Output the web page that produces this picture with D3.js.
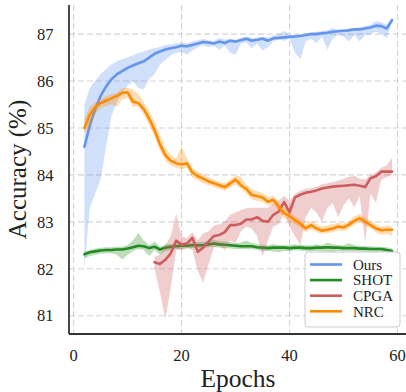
<!DOCTYPE html>
<html>
<head>
<meta charset="utf-8">
<script src="https://cdn.jsdelivr.net/npm/d3@7/dist/d3.min.js"></script>
<style>
  html, body { margin: 0; padding: 0; background: #fff; }
  svg { display: block; font-family: "Liberation Serif", "DejaVu Serif", serif; }
</style>
</head>
<body>
<svg id="chart" width="406" height="392"></svg>
<script>
// ---------- data ----------
const epochsMain = d3.range(2, 60);   // 2..59
const epochsCPGA = d3.range(15, 60);  // 15..59

const oursMean = [84.6,85.05,85.4,85.68,85.88,86.04,86.14,86.21,86.28,86.33,86.38,86.42,86.5,86.58,86.63,86.67,86.7,86.72,86.75,86.74,86.77,86.8,86.83,86.82,86.8,86.84,86.81,86.86,86.84,86.87,86.9,86.86,86.88,86.9,86.86,86.91,86.92,86.93,86.94,86.95,86.96,86.98,87.0,87.0,87.02,87.03,87.05,87.06,87.07,87.08,87.1,87.1,87.12,87.14,87.18,87.17,87.12,87.3];
const oursLow  = [82.0,83.3,83.6,83.9,84.6,85.25,85.55,85.75,85.9,86.0,85.85,85.82,86.05,86.15,86.35,86.45,86.55,86.6,86.62,86.56,86.65,86.72,86.77,86.72,86.75,86.67,86.75,86.6,86.56,86.8,86.82,86.7,86.8,86.65,86.72,86.85,86.88,86.86,86.9,86.6,86.47,86.85,86.9,86.8,86.95,86.67,86.9,86.98,86.95,86.84,86.98,86.84,86.98,87.0,87.05,87.0,86.91,87.25];
const oursHigh = [85.5,85.85,86.0,86.15,86.25,86.35,86.42,86.47,86.5,86.55,86.6,86.63,86.67,86.7,86.73,86.76,86.78,86.8,86.82,86.8,86.84,86.87,86.9,86.87,86.85,86.92,86.88,86.9,86.88,86.92,86.95,86.92,86.92,86.95,86.93,86.97,87.0,87.07,86.98,86.98,87.0,87.02,87.04,87.05,87.06,87.08,87.13,87.1,87.1,87.12,87.13,87.14,87.17,87.2,87.28,87.25,87.2,87.35];

const shotMean = [82.31,82.35,82.37,82.39,82.4,82.4,82.41,82.41,82.43,82.46,82.49,82.48,82.44,82.47,82.41,82.45,82.47,82.48,82.49,82.49,82.5,82.5,82.5,82.52,82.54,82.52,82.51,82.5,82.49,82.48,82.48,82.48,82.46,82.45,82.44,82.45,82.45,82.45,82.44,82.45,82.45,82.44,82.44,82.45,82.45,82.46,82.45,82.45,82.44,82.44,82.44,82.43,82.43,82.42,82.42,82.42,82.4,82.38];
const shotLow  = [82.22,82.27,82.3,82.32,82.33,82.33,82.3,82.2,82.3,82.38,82.42,82.4,82.27,82.4,82.3,82.38,82.4,82.42,82.42,82.43,82.44,82.44,82.44,82.46,82.47,82.45,82.44,82.43,82.42,82.42,82.42,82.42,82.4,82.38,82.38,82.37,82.35,82.38,82.38,82.39,82.39,82.38,82.37,82.38,82.37,82.37,82.35,82.38,82.37,82.38,82.37,82.37,82.36,82.36,82.35,82.36,82.34,82.33];
const shotHigh = [82.36,82.4,82.43,82.45,82.46,82.46,82.47,82.47,82.5,82.6,82.76,82.6,82.5,82.58,82.47,82.52,82.53,82.54,82.56,82.56,82.57,82.57,82.57,82.6,82.62,82.59,82.58,82.57,82.55,82.56,82.6,82.55,82.52,82.51,82.5,82.52,82.5,82.5,82.5,82.52,82.51,82.5,82.5,82.52,82.5,82.56,82.52,82.5,82.5,82.55,82.5,82.49,82.48,82.48,82.47,82.47,82.46,82.43];

const cpgaMean = [82.14,82.1,82.19,82.33,82.6,82.51,82.54,82.66,82.36,82.45,82.58,82.7,82.72,82.78,82.93,82.93,82.96,83.05,83.05,83.1,83.02,83.0,83.15,83.22,83.42,83.2,83.52,83.58,83.62,83.64,83.67,83.71,83.73,83.75,83.76,83.77,83.78,83.79,83.77,83.74,83.93,83.97,84.07,84.07,84.07];
const cpgaLow  = [82.0,81.5,80.93,81.6,82.4,82.4,82.45,82.4,81.95,81.7,82.1,82.45,82.5,82.4,82.6,82.55,82.8,82.9,82.85,82.7,82.26,82.6,82.9,82.95,83.2,82.9,82.7,82.5,83.1,83.3,83.2,83.0,83.3,83.4,83.1,83.35,83.5,83.3,83.55,82.55,83.6,83.4,83.9,83.95,84.0];
const cpgaHigh = [82.25,82.3,82.5,82.7,83.18,82.7,82.65,82.78,82.6,82.75,82.8,82.92,82.95,83.0,83.15,83.2,83.25,83.29,83.3,83.3,83.3,83.3,83.4,83.45,83.55,83.45,83.6,83.66,83.7,83.72,83.75,83.8,83.82,83.85,83.88,83.92,83.96,83.98,83.92,83.9,84.0,84.05,84.15,84.2,84.37];

const nrcMean = [85.0,85.28,85.44,85.53,85.58,85.63,85.68,85.75,85.76,85.56,85.53,85.4,85.2,84.95,84.65,84.42,84.3,84.25,84.22,84.25,84.05,83.97,83.92,83.86,83.82,83.78,83.74,83.82,83.9,83.78,83.7,83.57,83.55,83.52,83.43,83.47,83.32,83.18,83.12,83.04,82.96,82.86,82.93,82.86,82.81,82.83,82.86,82.9,82.88,82.94,83.02,83.08,83.0,82.93,82.86,82.82,82.83,82.83];
const nrcLow  = [84.9,85.0,85.3,85.42,85.47,85.5,85.45,85.6,85.65,85.45,85.45,85.28,85.05,84.82,84.52,84.3,84.2,84.15,84.12,84.15,83.95,83.88,83.82,83.78,83.74,83.7,83.66,83.72,83.8,83.7,83.6,83.48,83.45,83.42,83.35,83.38,83.22,83.08,83.02,82.95,82.88,82.78,82.84,82.78,82.74,82.76,82.78,82.82,82.8,82.86,82.94,83.0,82.92,82.85,82.78,82.72,82.74,82.7];
const nrcHigh = [85.2,85.45,85.55,85.62,85.68,85.72,85.75,85.85,85.85,85.82,85.72,85.55,85.35,85.15,84.85,84.58,84.42,84.35,84.6,84.35,84.15,84.06,84.02,83.95,83.9,83.86,83.82,83.9,83.98,83.96,83.8,83.7,83.65,83.62,83.52,83.56,83.42,83.3,83.22,83.12,83.05,82.95,83.02,82.95,82.9,82.92,82.95,82.98,82.96,83.02,83.12,83.16,83.1,83.02,82.95,82.9,82.92,82.9];

const xTicks = [0, 20, 40, 60];
const yTicks = [81, 82, 83, 84, 85, 86, 87];
const seriesNames = ["Ours", "SHOT", "CPGA", "NRC"];
const seriesColors = ["#6495ED", "#228B22", "#CD5C5C", "#FF8C00"];

// ---------- layout ----------
const svg = d3.select("#chart");
const W = 406, H = 392;
const pLeft = 69, pRight = 407.5, pTop = 5, pBottom = 334;

const x = d3.scaleLinear().domain([-0.85, 61.85]).range([pLeft, pRight]);
const y = d3.scaleLinear().domain([80.61, 87.62]).range([pBottom, pTop]);

// grid
const grid = svg.append("g");
grid.selectAll("line.gx").data(xTicks).join("line")
  .attr("x1", d => x(d)).attr("x2", d => x(d))
  .attr("y1", pTop).attr("y2", pBottom)
  .attr("stroke", "#d3d3d3").attr("stroke-width", 1.1).attr("stroke-dasharray", "6,3");
grid.selectAll("line.gy").data(yTicks).join("line")
  .attr("x1", pLeft).attr("x2", W)
  .attr("y1", d => y(d)).attr("y2", d => y(d))
  .attr("stroke", "#d3d3d3").attr("stroke-width", 1.1).attr("stroke-dasharray", "6,3");

// series
const series = [
  { name: "Ours", ep: epochsMain, m: oursMean, lo: oursLow, hi: oursHigh },
  { name: "SHOT", ep: epochsMain, m: shotMean, lo: shotLow, hi: shotHigh },
  { name: "CPGA", ep: epochsCPGA, m: cpgaMean, lo: cpgaLow, hi: cpgaHigh },
  { name: "NRC",  ep: epochsMain, m: nrcMean,  lo: nrcLow,  hi: nrcHigh }
];

svg.append("defs").append("clipPath").attr("id", "plotclip")
  .append("rect").attr("x", pLeft).attr("y", pTop).attr("width", W - pLeft).attr("height", pBottom - pTop);

const plot = svg.append("g").attr("clip-path", "url(#plotclip)");

series.forEach((s, i) => {
  const col = seriesColors[i];
  const pts = s.ep.map((e, k) => ({ e, m: s.m[k], lo: s.lo[k], hi: s.hi[k] }));
  plot.append("path").datum(pts)
    .attr("d", d3.area().x(d => x(d.e)).y0(d => y(d.lo)).y1(d => y(d.hi)))
    .attr("fill", col).attr("fill-opacity", 0.3).attr("stroke", "none");
  plot.append("path").datum(pts)
    .attr("d", d3.line().x(d => x(d.e)).y(d => y(d.m)))
    .attr("fill", "none").attr("stroke", col).attr("stroke-width", 2.6)
    .attr("stroke-linejoin", "round").attr("stroke-linecap", "round");
});

// spines
svg.append("line").attr("x1", pLeft).attr("x2", pLeft).attr("y1", pTop).attr("y2", pBottom)
  .attr("stroke", "#333").attr("stroke-width", 1.8);
svg.append("line").attr("x1", pLeft).attr("x2", W).attr("y1", pBottom).attr("y2", pBottom)
  .attr("stroke", "#333").attr("stroke-width", 1.8);

// tick labels
svg.selectAll("text.yt").data(yTicks).join("text")
  .attr("x", 53.5).attr("y", d => y(d)).attr("dy", "0.35em")
  .attr("text-anchor", "end").attr("font-size", 16.5).attr("fill", "#222")
  .text(d => d);
svg.selectAll("text.xt").data(xTicks).join("text")
  .attr("x", d => x(d)).attr("y", 361)
  .attr("text-anchor", "middle").attr("font-size", 16.5).attr("fill", "#222")
  .text(d => d);

// axis labels
svg.append("text").attr("x", 238).attr("y", 386.5)
  .attr("text-anchor", "middle").attr("font-size", 25.5).attr("fill", "#222").text("Epochs");
svg.append("text").attr("transform", `translate(26,${(pTop + pBottom) / 2}) rotate(-90)`)
  .attr("text-anchor", "middle").attr("font-size", 25).attr("fill", "#222").text("Accuracy (%)");

// legend
const lg = svg.append("g");
lg.append("rect").attr("x", 305).attr("y", 252).attr("width", 95).attr("height", 75)
  .attr("rx", 3).attr("fill", "#fff").attr("fill-opacity", 0.85)
  .attr("stroke", "#cccccc").attr("stroke-width", 1);
seriesNames.forEach((n, i) => {
  const yy = 264.5 + i * 15.6;
  lg.append("line").attr("x1", 310).attr("x2", 342).attr("y1", yy).attr("y2", yy)
    .attr("stroke", seriesColors[i]).attr("stroke-width", 2.6);
  lg.append("text").attr("x", 353).attr("y", yy).attr("dy", "0.35em")
    .attr("font-size", 15).attr("fill", "#222").text(n);
});
</script>
</body>
</html>
